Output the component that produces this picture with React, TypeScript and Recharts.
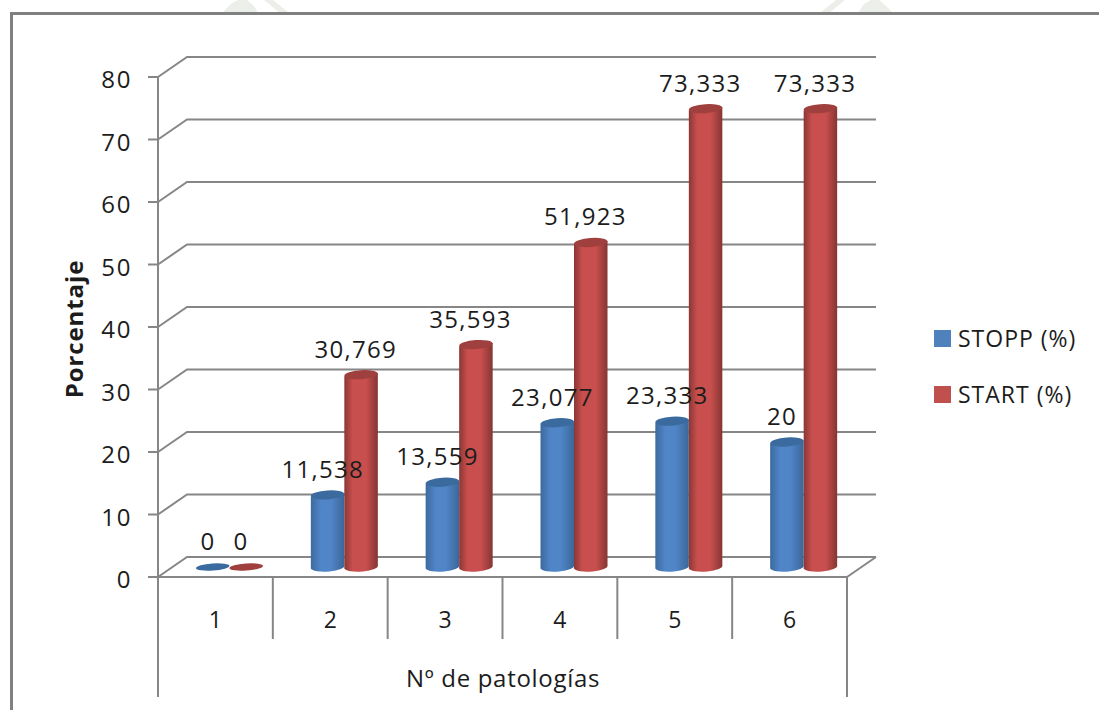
import React from "react";
import { Bar, CartesianGrid, ComposedChart, LabelList, Legend, Line, XAxis, YAxis } from "recharts";

const categories = ["1", "2", "3", "4", "5", "6"];
const stoppValues = [0, 11.538, 13.559, 23.077, 23.333, 20];
const startValues = [0, 30.769, 35.593, 51.923, 73.333, 73.333];
const yTicks = [0, 10, 20, 30, 40, 50, 60, 70, 80];

const data = categories.map((name, i) => ({
    name,
    stopp: stoppValues[i],
    start: startValues[i],
}));

const FONT = '"Open Sans", sans-serif';
const TEXT = "#1c1c1c";
const LINE = "#868686";
const BLUE = "#4f81bd";
const RED = "#c0504d";

// plot box
const WIDTH = 1099;
const HEIGHT = 710;
const LEFT = 158;
const RIGHT = 847;
const TOP = 77;
const BOTTOM = 577;
const BAND = (RIGHT - LEFT) / categories.length;

// fake depth of the 3D box
const DEPTH_X = 29;
const DEPTH_Y = 20;
const BAR_DX = 14;
const BAR_DY = -10;
const BAR_W = 33.5;

const fmt = (v: number) => String(v).replace(".", ",");

function WallLine(props: any) {
    const { x1, x2, y1 } = props;
    const back = y1 - DEPTH_Y;
    return (
        <polyline
            points={`${x1},${y1} ${x1 + DEPTH_X},${back} ${x2 + DEPTH_X},${back}`}
            fill="none"
            stroke={LINE}
            strokeWidth={2}
        />
    );
}

function Cylinder(props: any) {
    const { x, y, width, height, kind } = props;
    const left = x + BAR_DX;
    const right = left + width;
    const cx = left + width / 2;
    const base = y + height + BAR_DY;
    const top = y + BAR_DY;
    const rx = width / 2;
    const ry = 4.5;
    const tilt = 1.6;
    const topColor = kind === "blue" ? "#3b6a9f" : "#9f403e";
    if (height < 0.5) {
        return <ellipse cx={cx} cy={base} rx={rx} ry={ry - 1} fill={topColor} transform={`rotate(-4 ${cx} ${base})`} />;
    }
    const body =
        `M${left},${top + tilt} L${left},${base + tilt} ` +
        `A${rx},${ry} -4 0 0 ${right},${base - tilt} L${right},${top - tilt} Z`;
    return (
        <g>
            <path d={body} fill={`url(#grad-${kind})`} />
            <ellipse cx={cx} cy={top} rx={rx} ry={ry} fill={topColor} transform={`rotate(-4 ${cx} ${top})`} />
        </g>
    );
}

const valueLabel = (dx: number) => (props: any) => {
    const { x, y, value } = props;
    return (
        <text x={x + dx} y={y - 27} textAnchor="middle" fontFamily={FONT} fontSize={24} letterSpacing={1.3} fill={TEXT}>
            {fmt(value)}
        </text>
    );
};

function CategoryTick(props: any) {
    const { x, y, payload, index } = props;
    const edge = x + BAND / 2;
    const tickTop = y - 8;
    const last = index === categories.length - 1;
    return (
        <g>
            <text x={x} y={628} textAnchor="middle" fontFamily={FONT} fontSize={23} fill={TEXT}>
                {payload.value}
            </text>
            {index === 0 && <line x1={LEFT} x2={LEFT} y1={tickTop} y2={697} stroke={LINE} strokeWidth={2} />}
            <line x1={edge} x2={edge} y1={tickTop} y2={last ? 697 : 639} stroke={LINE} strokeWidth={2} />
            {/* right edge of the floor */}
            {last && (
                <line x1={edge} y1={BOTTOM} x2={edge + DEPTH_X} y2={BOTTOM - DEPTH_Y} stroke={LINE} strokeWidth={2} />
            )}
        </g>
    );
}

function ValueTick(props: any) {
    const { x, y, payload } = props;
    return (
        <text x={x} y={y + 11} textAnchor="end" fontFamily={FONT} fontSize={24} letterSpacing={1.6} fill={TEXT}>
            {payload.value}
        </text>
    );
}

function LegendBox({ payload }: any) {
    const items = payload.filter((p: any) => p.type !== "none");
    return (
        <div style={{ fontFamily: FONT, fontSize: 23, letterSpacing: 1, color: TEXT }}>
            {items.map((p: any) => (
                <div key={p.value} style={{ display: "flex", alignItems: "center", height: 56, whiteSpace: "nowrap" }}>
                    <span style={{ width: 17, height: 17, background: p.color, marginRight: 7 }} />
                    {p.value}
                </div>
            ))}
        </div>
    );
}

// faint marks at the top edge of the sheet
function SheetMarks() {
    return (
        <svg width={WIDTH} height={14} style={{ position: "absolute", left: 0, top: 0 }}>
            <g fill="#eceeea">
                <polygon points="222,13 232,3 238,0 247,0 254,6 258,13" />
                <polygon points="264,0 273,0 289,13 280,13" />
                <polygon points="820,13 836,0 845,0 829,13" />
                <polygon points="858,13 864,4 871,0 879,0 886,6 893,13" />
            </g>
        </svg>
    );
}

export default function App() {
    return (
        <div style={{ position: "absolute", left: 0, top: 0, width: WIDTH, height: HEIGHT, background: "#fff", overflow: "hidden" }}>
            <SheetMarks />
            {/* chart frame, only top and left edges show */}
            <div
                style={{
                    position: "absolute",
                    left: 10,
                    top: 12,
                    right: 0,
                    bottom: 0,
                    borderTop: "3px solid #808080",
                    borderLeft: "3px solid #808080",
                }}
            />
            <ComposedChart
                width={WIDTH}
                height={HEIGHT}
                data={data}
                barSize={BAR_W}
                barGap={0}
                margin={{ top: TOP, right: WIDTH - RIGHT, bottom: 0, left: 0 }}
                style={{ position: "absolute", left: 0, top: 0 }}
            >
                <defs>
                    <linearGradient id="grad-blue" x1="0" x2="1" y1="0" y2="0">
                        <stop offset="0" stopColor="#3d6a9e" />
                        <stop offset="0.3" stopColor="#5085c8" />
                        <stop offset="0.6" stopColor="#5085c8" />
                        <stop offset="1" stopColor="#3b6798" />
                    </linearGradient>
                    <linearGradient id="grad-red" x1="0" x2="1" y1="0" y2="0">
                        <stop offset="0" stopColor="#8a3735" />
                        <stop offset="0.25" stopColor="#c84f4d" />
                        <stop offset="0.65" stopColor="#c84f4d" />
                        <stop offset="1" stopColor="#853533" />
                    </linearGradient>
                </defs>
                <CartesianGrid vertical={false} horizontal={(p: any) => <WallLine key={p.key} {...p} />} />
                <XAxis
                    dataKey="name"
                    height={HEIGHT - BOTTOM}
                    interval={0}
                    tickLine={false}
                    axisLine={{ stroke: LINE, strokeWidth: 2 }}
                    tick={(p: any) => <CategoryTick {...p} />}
                    label={{
                        value: "Nº de patologías",
                        content: () => (
                            <text x={503} y={687} textAnchor="middle" fontFamily={FONT} fontSize={24} letterSpacing={0.7} fill={TEXT}>
                                Nº de patologías
                            </text>
                        ),
                    }}
                />
                <YAxis
                    width={LEFT}
                    domain={[0, 80]}
                    ticks={yTicks}
                    interval={0}
                    tickSize={10}
                    tickMargin={16}
                    axisLine={{ stroke: LINE, strokeWidth: 2 }}
                    tickLine={{ stroke: LINE, strokeWidth: 2 }}
                    tick={(p: any) => <ValueTick {...p} />}
                    label={{
                        value: "Porcentaje",
                        content: () => (
                            <text
                                x={83}
                                y={329}
                                textAnchor="middle"
                                transform="rotate(-90 83 329)"
                                fontFamily={FONT}
                                fontSize={24}
                                fontWeight={700}
                                letterSpacing={0.9}
                                fill={TEXT}
                            >
                                Porcentaje
                            </text>
                        ),
                    }}
                />
                <Bar dataKey="stopp" name="STOPP (%)" fill={BLUE} isAnimationActive={false} shape={(p: any) => <Cylinder {...p} kind="blue" />} />
                <Bar dataKey="start" name="START (%)" fill={RED} isAnimationActive={false} shape={(p: any) => <Cylinder {...p} kind="red" />} />
                {/* invisible lines carry the value labels so they paint over the bars */}
                <Line dataKey="stopp" stroke="none" dot={false} legendType="none" isAnimationActive={false}>
                    <LabelList dataKey="stopp" content={valueLabel(-7.5)} />
                </Line>
                <Line dataKey="start" stroke="none" dot={false} legendType="none" isAnimationActive={false}>
                    <LabelList dataKey="start" content={valueLabel(25.5)} />
                </Line>
                <Legend
                    layout="vertical"
                    align="center"
                    verticalAlign="middle"
                    itemSorter={null}
                    content={(p: any) => <LegendBox {...p} />}
                    wrapperStyle={{ position: "absolute", left: 934, top: 310, width: 165 }}
                />
            </ComposedChart>
        </div>
    );
}
